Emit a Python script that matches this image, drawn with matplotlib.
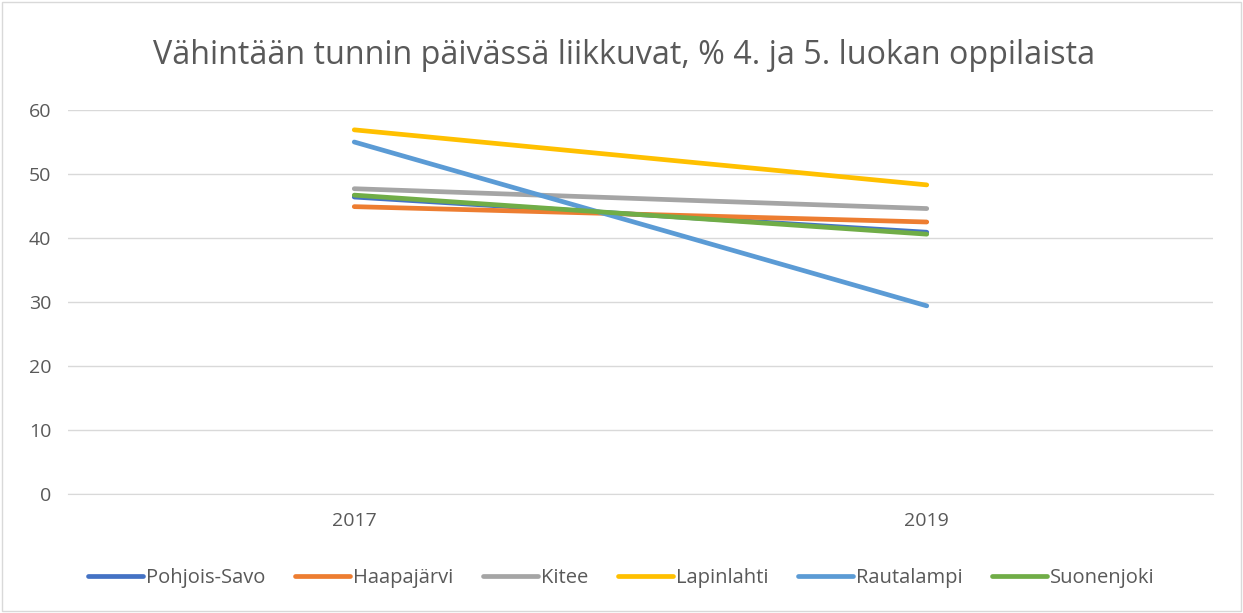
import matplotlib.pyplot as plt
from matplotlib.patches import Rectangle

years = ["2017", "2019"]
names = ["Pohjois-Savo", "Haapajärvi", "Kitee", "Lapinlahti", "Rautalampi", "Suonenjoki"]
pohjois_savo = [46.4, 40.9]
haapajarvi = [44.9, 42.5]
kitee = [47.7, 44.6]
lapinlahti = [56.9, 48.3]
rautalampi = [55.0, 29.4]
suonenjoki = [46.7, 40.6]
series = [pohjois_savo, haapajarvi, kitee, lapinlahti, rautalampi, suonenjoki]
colors = ["#4472C4", "#ED7D31", "#A5A5A5", "#FFC000", "#5B9BD5", "#70AD47"]

txt = "#595959"
plt.rcParams['font.family'] = ['Open Sans', 'DejaVu Sans']

fig = plt.figure(figsize=(12.43, 6.13), dpi=100)
ax = fig.add_axes([68 / 1243, 1 - 494 / 613, 1145 / 1243, 384 / 613])

x = list(range(len(years)))
for name, vals, c in zip(names, series, colors):
    ax.plot(x, vals, color=c, lw=3.4, solid_capstyle='round', label=name)

ax.set_xlim(-0.5, len(years) - 0.5)
ax.set_ylim(0, 60)
ax.set_yticks(range(0, 61, 10))
ax.set_xticks(x)
ax.set_xticklabels(years)
ax.grid(axis='y', color='#D9D9D9', lw=1)
ax.set_axisbelow(True)
for s in ['top', 'right', 'left']:
    ax.spines[s].set_visible(False)
ax.spines['bottom'].set_color('#D9D9D9')
ax.tick_params(length=0, colors=txt, labelsize=14)
ax.tick_params(axis='x', pad=13)
ax.tick_params(axis='y', pad=12)

fig.text(0.502, 1 - 56 / 613, "Vähintään tunnin päivässä liikkuvat, % 4. ja 5. luokan oppilaista",
         ha='center', va='center', fontsize=23.2, color=txt)

fig.legend(loc='center', bbox_to_anchor=(0.5, 1 - 578 / 613), ncol=6, frameon=False,
           fontsize=14.5, labelcolor=txt, handlelength=2.7, handletextpad=0.15, columnspacing=1.5)

fig.patches.append(Rectangle((0.002, 0.003), 0.996, 0.994, transform=fig.transFigure,
                             fill=False, edgecolor='#D9D9D9', lw=1))

fig.savefig("out.png", dpi=100)
